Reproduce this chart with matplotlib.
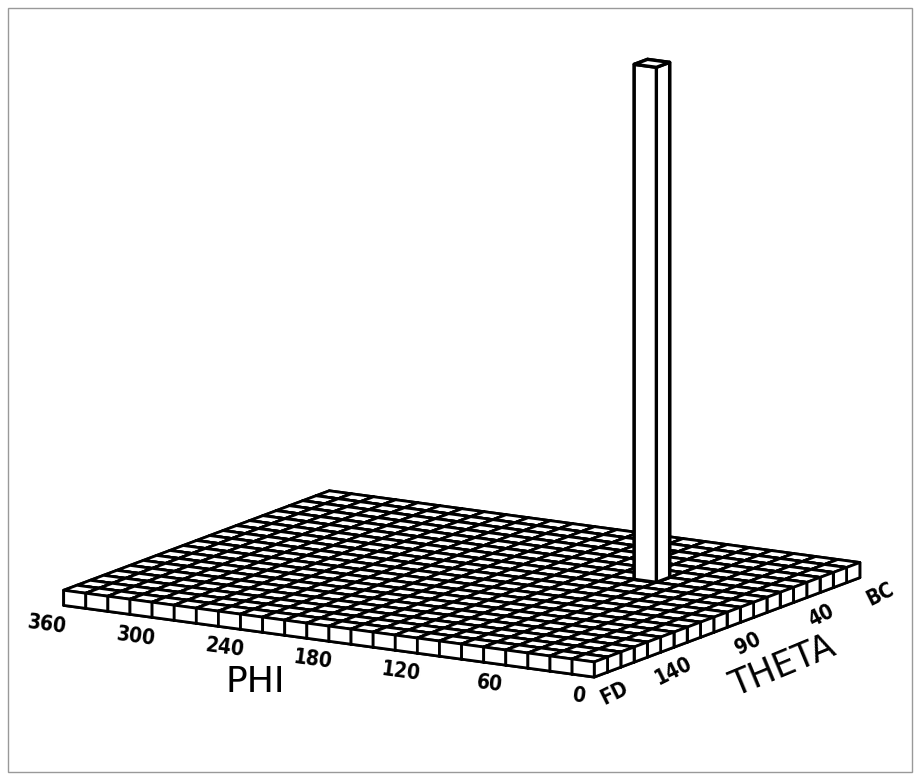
import numpy as np
import matplotlib.pyplot as plt
from matplotlib.patches import Rectangle

# histogram bins (degrees)
phi_edges = np.arange(0, 361, 15)      # 24 bins
theta_edges = np.arange(0, 181, 9)     # 20 bins
base_count = 1.0
peak_phi = 75       # lower edge of the peak bin
peak_theta = 54
peak_count = 35.0

phi_ticks = [0, 60, 120, 180, 240, 300, 360]
theta_ticks = [180, 140, 90, 40, 0]
theta_ticklabels = ["FD", "140", "90", "40", "BC"]

counts = np.full((len(phi_edges) - 1, len(theta_edges) - 1), base_count)
ip = np.searchsorted(phi_edges, peak_phi)
it = np.searchsorted(theta_edges, peak_theta)
counts[ip, it] = peak_count

fig = plt.figure(figsize=(9.19, 7.80), dpi=100)
ax = fig.add_axes([-0.009, 0.068, 1.0, 1.0], projection="3d")
ax.computed_zorder = False

P, T = np.meshgrid(phi_edges[:-1], theta_edges[:-1], indexing="ij")
DP, DT = np.meshgrid(np.diff(phi_edges), np.diff(theta_edges), indexing="ij")
floor = np.minimum(counts, base_count)

# flat carpet of small boxes
carpet = ax.bar3d(P.ravel(), T.ravel(), np.zeros(P.size), DP.ravel(),
                  DT.ravel(), floor.ravel(), color="white", edgecolor="black",
                  linewidth=2.0, shade=False, zorder=1)
carpet.set_clip_on(False)

# whatever rises above the carpet, drawn on top
extra = counts - floor
m = extra > 0
spike = ax.bar3d(P[m], T[m], floor[m], DP[m], DT[m], extra[m], color="white",
                 edgecolor="black", linewidth=2.4, shade=False, zorder=2)
spike.set_clip_on(False)

ax.set_xlim(0, 360)
ax.set_ylim(0, 180)
ax.set_zlim(0, peak_count)
ax.set_proj_type("ortho")
ax.set_box_aspect((24, 20, 21.1), zoom=1.21)
ax.view_init(elev=13, azim=121)
ax.set_axis_off()

tick_font = dict(fontsize=15, fontweight="bold", fontstretch="condensed",
                 family="DejaVu Sans")
for p in phi_ticks:
    ax.text(p - 17, 208, 0, str(p), zdir=(-1, 0, 0), ha="center",
            va="center", zorder=5, clip_on=False, **tick_font)
for t, lab in zip(theta_ticks, theta_ticklabels):
    ax.text(-32, t + 18, 0, lab, zdir=(0, -1, 0.012), ha="center",
            va="center", zorder=5, clip_on=False, **tick_font)
ax.text(162, 248, 0, "PHI", zdir=None, fontsize=26, ha="center",
        va="center", zorder=5, clip_on=False)
ax.text(-80, 132, 0, "THETA", zdir=(0, -1, 0.004), fontsize=25, ha="center",
        va="center", zorder=5, clip_on=False)

fig.patches.append(Rectangle((8 / 919, 8 / 780), 904 / 919, 764 / 780,
                             transform=fig.transFigure, fill=False,
                             edgecolor="#999999", linewidth=1.0))

fig.savefig("out.png", dpi=100, facecolor="white")
